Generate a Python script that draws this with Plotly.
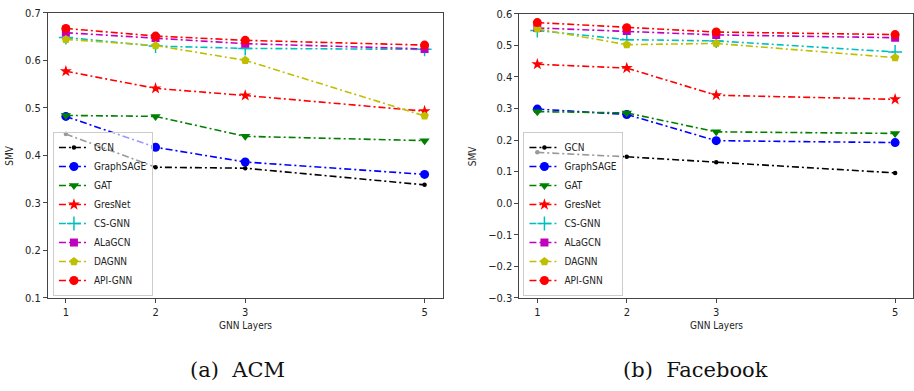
import plotly.graph_objects as go

layers = [1, 2, 3, 5]
methods = ["GCN", "GraphSAGE", "GAT", "GresNet", "CS-GNN", "ALaGCN", "DAGNN", "API-GNN"]

acm_gcn = [0.445, 0.375, 0.373, 0.338]
acm_graphsage = [0.482, 0.417, 0.386, 0.360]
acm_gat = [0.484, 0.482, 0.440, 0.431]
acm_gresnet = [0.577, 0.541, 0.526, 0.493]
acm_csgnn = [0.648, 0.630, 0.625, 0.623]
acm_alagcn = [0.658, 0.647, 0.635, 0.624]
acm_dagnn = [0.644, 0.631, 0.600, 0.483]
acm_apignn = [0.667, 0.651, 0.642, 0.632]

fb_gcn = [0.161, 0.147, 0.130, 0.096]
fb_graphsage = [0.298, 0.281, 0.198, 0.192]
fb_gat = [0.290, 0.286, 0.226, 0.221]
fb_gresnet = [0.440, 0.428, 0.342, 0.329]
fb_csgnn = [0.547, 0.518, 0.514, 0.479]
fb_alagcn = [0.555, 0.545, 0.533, 0.524]
fb_dagnn = [0.552, 0.502, 0.506, 0.461]
fb_apignn = [0.572, 0.556, 0.542, 0.534]

acm_yticks = [0.1, 0.2, 0.3, 0.4, 0.5, 0.6, 0.7]
fb_yticks = [-0.3, -0.2, -0.1, 0.0, 0.1, 0.2, 0.3, 0.4, 0.5, 0.6]
fb_yticktext = ["\u22120.3", "\u22120.2", "\u22120.1", "0.0", "0.1", "0.2", "0.3", "0.4", "0.5", "0.6"]

acm = [acm_gcn, acm_graphsage, acm_gat, acm_gresnet, acm_csgnn, acm_alagcn, acm_dagnn, acm_apignn]
fb = [fb_gcn, fb_graphsage, fb_gat, fb_gresnet, fb_csgnn, fb_alagcn, fb_dagnn, fb_apignn]

colors = ["#000000", "#0000ff", "#008000", "#ff0000", "#00bfbf", "#bf00bf", "#bfbf00", "#ff0000"]
symbols = ["circle", "circle", "triangle-down", "star", "cross-thin", "square", "pentagon", "circle"]
sizes = [4.5, 9, 9, 9, 10, 8, 9, 9]
dash = "7px,3px,2px,3px"

fig = go.Figure()
W, H = 914, 391

for i, m in enumerate(methods):
    for data, xa, ya, leg in ((acm, "x", "y", "legend"), (fb, "x2", "y2", "legend2")):
        fig.add_trace(go.Scatter(
            x=layers, y=data[i], name=m, mode="lines+markers",
            xaxis=xa, yaxis=ya, legend=leg,
            line=dict(color=colors[i], width=1.6, dash=dash),
            marker=dict(symbol=symbols[i], size=sizes[i], color=colors[i],
                        line=dict(color=colors[i], width=1.5 if symbols[i] == "cross-thin" else 0)),
        ))

fam = "DejaVu Sans Condensed, DejaVu Sans"
tickfont = dict(family=fam, size=11, color="#222222")
axcommon = dict(showline=True, linecolor="#444444", linewidth=1, mirror=True,
                ticks="outside", ticklen=4, tickcolor="#444444", showgrid=False,
                zeroline=False, tickfont=tickfont)

legcommon = dict(xanchor="left", yanchor="bottom",
                 bordercolor="#cccccc", borderwidth=1, bgcolor="rgba(255,255,255,0.6)",
                 font=dict(family=fam, size=10, color="#222222"),
                 tracegroupgap=0, itemwidth=30)

fig.update_layout(
    width=W, height=H, margin=dict(l=0, r=0, t=0, b=0),
    plot_bgcolor="white", paper_bgcolor="white",
    xaxis=dict(domain=[48 / W, 443 / W], range=[0.8, 5.2], tickvals=layers, anchor="y", **axcommon),
    yaxis=dict(domain=[(H - 302) / H, (H - 7) / H], range=[0.1, 0.7], tickvals=acm_yticks,
               tickformat=".1f", anchor="x", **axcommon),
    xaxis2=dict(domain=[520 / W, 1.0], range=[0.8, 5.2], tickvals=layers, anchor="y2", **axcommon),
    yaxis2=dict(domain=[(H - 302) / H, (H - 8) / H], range=[-0.3, 0.6], tickvals=fb_yticks,
                ticktext=fb_yticktext, anchor="x2", **axcommon),
    legend=dict(x=53 / W, y=(H - 300) / H, **legcommon),
    legend2=dict(x=524 / W, y=(H - 300) / H, **legcommon),
)

labfont = dict(family=fam, size=10, color="#222222")
capfont = dict(family="DejaVu Serif", size=21, color="#111111")
ann = [
    dict(text="SMV", x=10 / W, y=(H - 155) / H, textangle=-90, font=labfont),
    dict(text="SMV", x=473 / W, y=(H - 155) / H, textangle=-90, font=labfont),
    dict(text="GNN Layers", x=245.5 / W, y=(H - 330) / H, font=labfont),
    dict(text="GNN Layers", x=717 / W, y=(H - 330) / H, font=labfont),
    dict(text="(a)  ACM", x=238 / W, y=(H - 377) / H, font=capfont),
    dict(text="(b)  Facebook", x=696 / W, y=(H - 377) / H, font=capfont),
]
for a in ann:
    a.update(xref="paper", yref="paper", showarrow=False, xanchor="center", yanchor="middle")
fig.update_layout(annotations=ann)

fig.write_html("out.html", config={"displayModeBar": False},
               post_script="document.body.style.margin='0';document.body.style.overflow='hidden';")
